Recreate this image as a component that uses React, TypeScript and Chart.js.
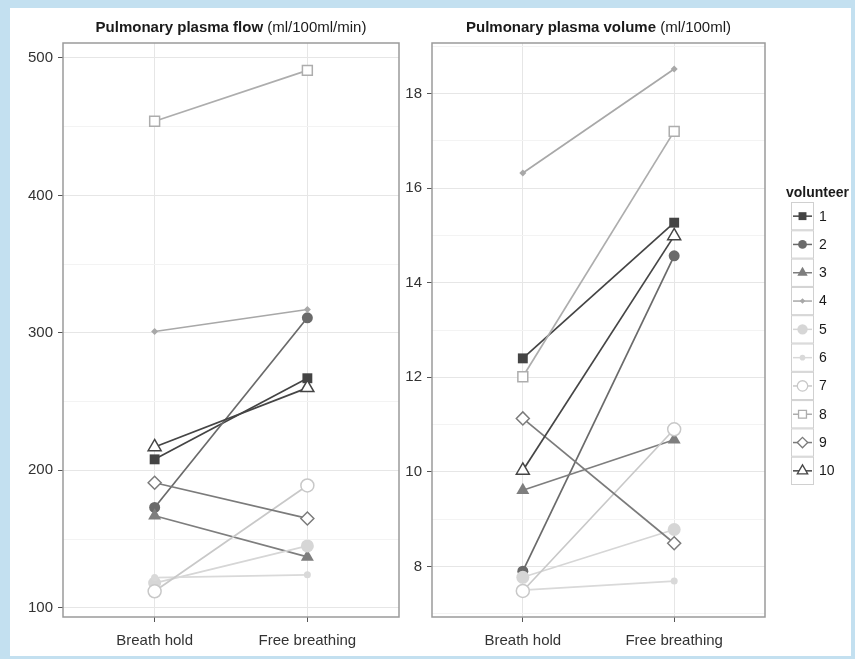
import React, { useEffect, useRef } from 'react';
import { Chart, registerables } from 'chart.js';

Chart.register(...registerables);

const categories = ['Breath hold', 'Free breathing'];
const volunteers = ['1', '2', '3', '4', '5', '6', '7', '8', '9', '10'];

const flowBreathHold = [208, 173, 167, 301, 118, 122, 112, 454, 191, 217];
const flowFreeBreathing = [267, 311, 137, 317, 145, 124, 189, 491, 165, 260];

const volumeBreathHold = [12.4, 7.9, 9.61, 16.32, 7.77, 7.5, 7.48, 12.01, 11.13, 10.03];
const volumeFreeBreathing = [15.27, 14.57, 10.68, 18.52, 8.78, 7.69, 10.9, 17.2, 8.49, 14.99];

const flowTicks = [100, 200, 300, 400, 500];
const volumeTicks = [8, 10, 12, 14, 16, 18];

const seriesColors = ['#444444', '#6a6a6a', '#7e7e7e', '#a8a8a8', '#d6d6d6', '#d9d9d9', '#c8c8c8', '#adadad', '#7b7b7b', '#454545'];
const markerStyles = ['rect', 'circle', 'triangle', 'rectRot', 'circle', 'circle', 'circle', 'rect', 'rectRot', 'triangle'];
const markerFilled = [true, true, true, true, true, true, false, false, false, false];
const markerRadius = [7, 5.5, 7.5, 3.5, 6.5, 3.5, 6.5, 7, 6.5, 7.5];

const FONT = "'Liberation Sans', Arial, Helvetica, sans-serif";

function minorOf(ticks: number[]) {
  const step = ticks[1] - ticks[0];
  const out: number[] = [ticks[0] - step / 2];
  ticks.forEach((t) => out.push(t + step / 2));
  return out;
}

function drawMarker(ctx: CanvasRenderingContext2D, style: string, x: number, y: number, r: number) {
  ctx.beginPath();
  if (style === 'circle') {
    ctx.arc(x, y, r, 0, Math.PI * 2);
  } else if (style === 'rect') {
    const s = Math.SQRT1_2 * r;
    ctx.rect(x - s, y - s, 2 * s, 2 * s);
  } else if (style === 'rectRot') {
    ctx.moveTo(x - r, y);
    ctx.lineTo(x, y - r);
    ctx.lineTo(x + r, y);
    ctx.lineTo(x, y + r);
  } else if (style === 'triangle') {
    let a = 0;
    ctx.moveTo(x + Math.sin(a) * r, y - Math.cos(a) * r);
    a += (2 * Math.PI) / 3;
    ctx.lineTo(x + Math.sin(a) * r, y - Math.cos(a) * r);
    a += (2 * Math.PI) / 3;
    ctx.lineTo(x + Math.sin(a) * r, y - Math.cos(a) * r);
  }
  ctx.closePath();
}

const framePlugin = {
  id: 'panelFrame',
  afterDraw(chart: any) {
    const { ctx, chartArea: a } = chart;
    ctx.save();
    ctx.strokeStyle = '#9a9a9a';
    ctx.lineWidth = 1.5;
    ctx.strokeRect(a.left, a.top, a.right - a.left, a.bottom - a.top);
    ctx.restore();
  },
};

function makeTitlePlugin(bold: string, normal: string) {
  return {
    id: 'mixedTitle',
    afterDraw(chart: any) {
      const { ctx, chartArea: a } = chart;
      ctx.save();
      ctx.fillStyle = '#1a1a1a';
      ctx.textBaseline = 'middle';
      ctx.font = `bold 15px ${FONT}`;
      const wb = ctx.measureText(bold).width;
      ctx.font = `15px ${FONT}`;
      const wn = ctx.measureText(normal).width;
      const cx = (a.left + a.right) / 2;
      const x0 = cx - (wb + wn) / 2;
      ctx.font = `bold 15px ${FONT}`;
      ctx.fillText(bold, x0, 28);
      ctx.font = `15px ${FONT}`;
      ctx.fillText(normal, x0 + wb, 28);
      ctx.restore();
    },
  };
}

const legendPlugin = {
  id: 'volunteerLegend',
  afterDraw(chart: any) {
    const { ctx } = chart;
    const left = 391;
    const boxW = 22;
    const top = 202;
    const rowH = 28.3;
    ctx.save();
    ctx.fillStyle = '#1a1a1a';
    ctx.textBaseline = 'middle';
    ctx.textAlign = 'left';
    ctx.font = `bold 14px ${FONT}`;
    ctx.fillText('volunteer', 386, 193);
    volunteers.forEach((v, i) => {
      const y0 = top + i * rowH;
      ctx.strokeStyle = '#d0d0d0';
      ctx.lineWidth = 1;
      ctx.strokeRect(left + 0.5, y0 + 0.5, boxW, rowH - 1);
      const cy = y0 + rowH / 2;
      ctx.strokeStyle = seriesColors[i];
      ctx.lineWidth = 1.5;
      ctx.beginPath();
      ctx.moveTo(left + 2, cy);
      ctx.lineTo(left + boxW - 1, cy);
      ctx.stroke();
      drawMarker(ctx, markerStyles[i], left + boxW / 2 + 0.5, cy, markerRadius[i] * 0.8);
      if (markerFilled[i]) {
        ctx.fillStyle = seriesColors[i];
        ctx.fill();
      } else {
        ctx.fillStyle = '#ffffff';
        ctx.fill();
        ctx.lineWidth = 1.3;
        ctx.strokeStyle = seriesColors[i];
        ctx.stroke();
      }
      ctx.fillStyle = '#1a1a1a';
      ctx.font = `14px ${FONT}`;
      ctx.fillText(v, left + boxW + 6, cy + 0.5);
    });
    ctx.restore();
  },
};

function buildDatasets(bh: number[], fb: number[]) {
  const lines = volunteers.map((v, i) => ({
    label: v,
    data: [
      { x: 1, y: bh[i] },
      { x: 2, y: fb[i] },
    ],
    borderColor: seriesColors[i],
    borderWidth: 1.7,
    pointRadius: 0,
    showLine: true,
    order: 100 - i,
  }));
  const points = volunteers.map((v, i) => ({
    label: v + ' pts',
    data: [
      { x: 1, y: bh[i] },
      { x: 2, y: fb[i] },
    ],
    showLine: false,
    pointStyle: markerStyles[i],
    pointRadius: markerRadius[i],
    pointBackgroundColor: markerFilled[i] ? seriesColors[i] : '#ffffff',
    pointBorderColor: seriesColors[i],
    pointBorderWidth: markerFilled[i] ? 0 : 1.5,
    order: -i,
  }));
  return [...lines, ...points];
}

function makeConfig(
  bh: number[],
  fb: number[],
  majors: number[],
  yMin: number,
  yMax: number,
  yWidth: number,
  padding: any,
  plugins: any[]
) {
  const minors = minorOf(majors).filter((m) => m > yMin && m < yMax);
  const all = [...majors, ...minors].sort((a, b) => a - b);
  const isMajor = (v: number) => majors.some((m) => Math.abs(m - v) < 1e-9);
  return {
    type: 'scatter',
    data: { datasets: buildDatasets(bh, fb) },
    options: {
      responsive: false,
      animation: false,
      layout: { padding },
      plugins: { legend: { display: false }, tooltip: { enabled: false }, title: { display: false } },
      scales: {
        x: {
          type: 'linear',
          min: 0.4,
          max: 2.6,
          afterBuildTicks: (s: any) => {
            s.ticks = categories.map((_, i) => ({ value: i + 1 }));
          },
          afterFit: (s: any) => {
            s.height = 42;
          },
          border: { display: false },
          grid: { color: '#e6e6e6', tickColor: '#555555', tickLength: 5, lineWidth: 1 },
          ticks: {
            autoSkip: false,
            maxRotation: 0,
            padding: 10,
            color: '#333333',
            font: { family: FONT, size: 15 },
            callback: (v: any) => categories[Math.round(v) - 1] ?? '',
          },
        },
        y: {
          type: 'linear',
          min: yMin,
          max: yMax,
          afterBuildTicks: (s: any) => {
            s.ticks = all.map((v) => ({ value: v }));
          },
          afterFit: (s: any) => {
            s.width = yWidth;
          },
          border: { display: false },
          grid: {
            color: (c: any) => (c.tick && isMajor(c.tick.value) ? '#e6e6e6' : '#f3f3f3'),
            tickColor: (c: any) => (c.tick && isMajor(c.tick.value) ? '#555555' : 'rgba(0,0,0,0)'),
            tickLength: 5,
            lineWidth: 1,
          },
          ticks: {
            autoSkip: false,
            padding: 5,
            color: '#333333',
            font: { family: FONT, size: 15 },
            callback: (v: any) => (isMajor(v) ? String(v) : ''),
          },
        },
      },
    },
    plugins,
  } as any;
}

export default function App() {
  const leftRef = useRef<HTMLCanvasElement>(null);
  const rightRef = useRef<HTMLCanvasElement>(null);

  useEffect(() => {
    const left = new Chart(
      leftRef.current as HTMLCanvasElement,
      makeConfig(flowBreathHold, flowFreeBreathing, flowTicks, 93.3, 510.9, 40, { left: 23, right: 11, top: 43, bottom: 0 }, [
        framePlugin,
        makeTitlePlugin('Pulmonary plasma flow', ' (ml/100ml/min)'),
      ])
    );
    const right = new Chart(
      rightRef.current as HTMLCanvasElement,
      makeConfig(volumeBreathHold, volumeFreeBreathing, volumeTicks, 6.93, 19.07, 32, { left: 0, right: 90, top: 43, bottom: 0 }, [
        framePlugin,
        makeTitlePlugin('Pulmonary plasma volume', ' (ml/100ml)'),
        legendPlugin,
      ])
    );
    return () => {
      left.destroy();
      right.destroy();
    };
  }, []);

  return (
    <div style={{ position: 'fixed', left: 0, top: 0, width: 855, height: 659, background: '#c3e0f0', overflow: 'hidden' }}>
      <div style={{ position: 'absolute', left: 10, top: 8, width: 855 - 10 - 4, height: 659 - 8 - 3, background: '#ffffff' }} />
      <canvas ref={leftRef} width={410} height={659} style={{ position: 'absolute', left: 0, top: 0, width: 410, height: 659 }} />
      <canvas ref={rightRef} width={455} height={659} style={{ position: 'absolute', left: 400, top: 0, width: 455, height: 659 }} />
    </div>
  );
}
